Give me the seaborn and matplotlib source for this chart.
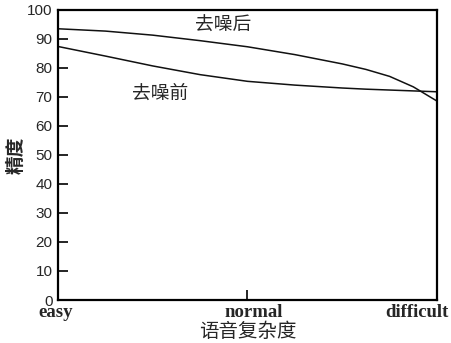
import matplotlib
matplotlib.use("Agg")
import matplotlib.pyplot as plt
import matplotlib.transforms as mtransforms
import seaborn as sns
import pandas as pd

# Data
x_pos = [0, 0.25, 0.5, 0.75, 1.0, 1.25, 1.5, 1.625, 1.75, 1.875, 2.0]
after_vals = [93.4, 92.6, 91.2, 89.3, 87.2, 84.5, 81.3, 79.4, 77.0, 73.4, 68.5]
before_vals = [87.3, 84.0, 80.6, 77.6, 75.3, 74.0, 73.0, 72.6, 72.3, 72.0, 71.7]
series_names = ["去噪后", "去噪前"]
x_ticklabels = ["easy", "normal", "difficult"]
y_ticks = [0, 10, 20, 30, 40, 50, 60, 70, 80, 90, 100]

df = pd.DataFrame({
    "x": x_pos * 2,
    "y": after_vals + before_vals,
    "s": [series_names[0]] * len(x_pos) + [series_names[1]] * len(x_pos),
})

sns.set_style("ticks")
plt.rcParams["font.family"] = ["Noto Sans CJK SC", "DejaVu Sans"]

fig = plt.figure(figsize=(4.52, 3.43), dpi=100)
ax = fig.add_axes([58 / 452, 1 - 300 / 343, (437 - 58) / 452, (300 - 9.6) / 343])

sns.lineplot(data=df, x="x", y="y", hue="s", palette=["#111111", "#111111"],
             linewidth=1.1, legend=False, ax=ax)

ax.set_xlim(0, 2)
ax.set_ylim(0, 100)
ax.set_xticks([0, 1, 2])
ax.set_xticklabels(x_ticklabels, family="Liberation Serif", fontweight="bold", fontsize=13.5)
ax.set_yticks(y_ticks)
ax.set_yticklabels([str(v) for v in y_ticks], family="Liberation Sans", fontsize=11)
ax.tick_params(axis="both", direction="in", length=7, width=1.2, color="black")
ax.tick_params(axis="x", pad=3)
ax.tick_params(axis="y", pad=4)
for sp in ax.spines.values():
    sp.set_visible(True)
    sp.set_linewidth(1.6)
    sp.set_color("black")

# shift tick labels horizontally as in the reference
shifts = [-2, 6, -20]
for lab, dx in zip(ax.get_xticklabels(), shifts):
    lab.set_transform(lab.get_transform() +
                      mtransforms.ScaledTranslation(dx / 100, 0, fig.dpi_scale_trans))

ax.set_xlabel("语音复杂度", fontsize=14, labelpad=0,
              family=["Noto Sans CJK SC", "DejaVu Sans"])
ax.set_ylabel("精度", fontsize=13.5, fontweight="bold", labelpad=1,
              family=["Noto Sans CJK SC", "DejaVu Sans"])

ax.text(0.87, 94.5, series_names[0], ha="center", va="center", fontsize=13.5)
ax.text(0.54, 71.2, series_names[1], ha="center", va="center", fontsize=13.5)

fig.savefig("out.png", dpi=100)
